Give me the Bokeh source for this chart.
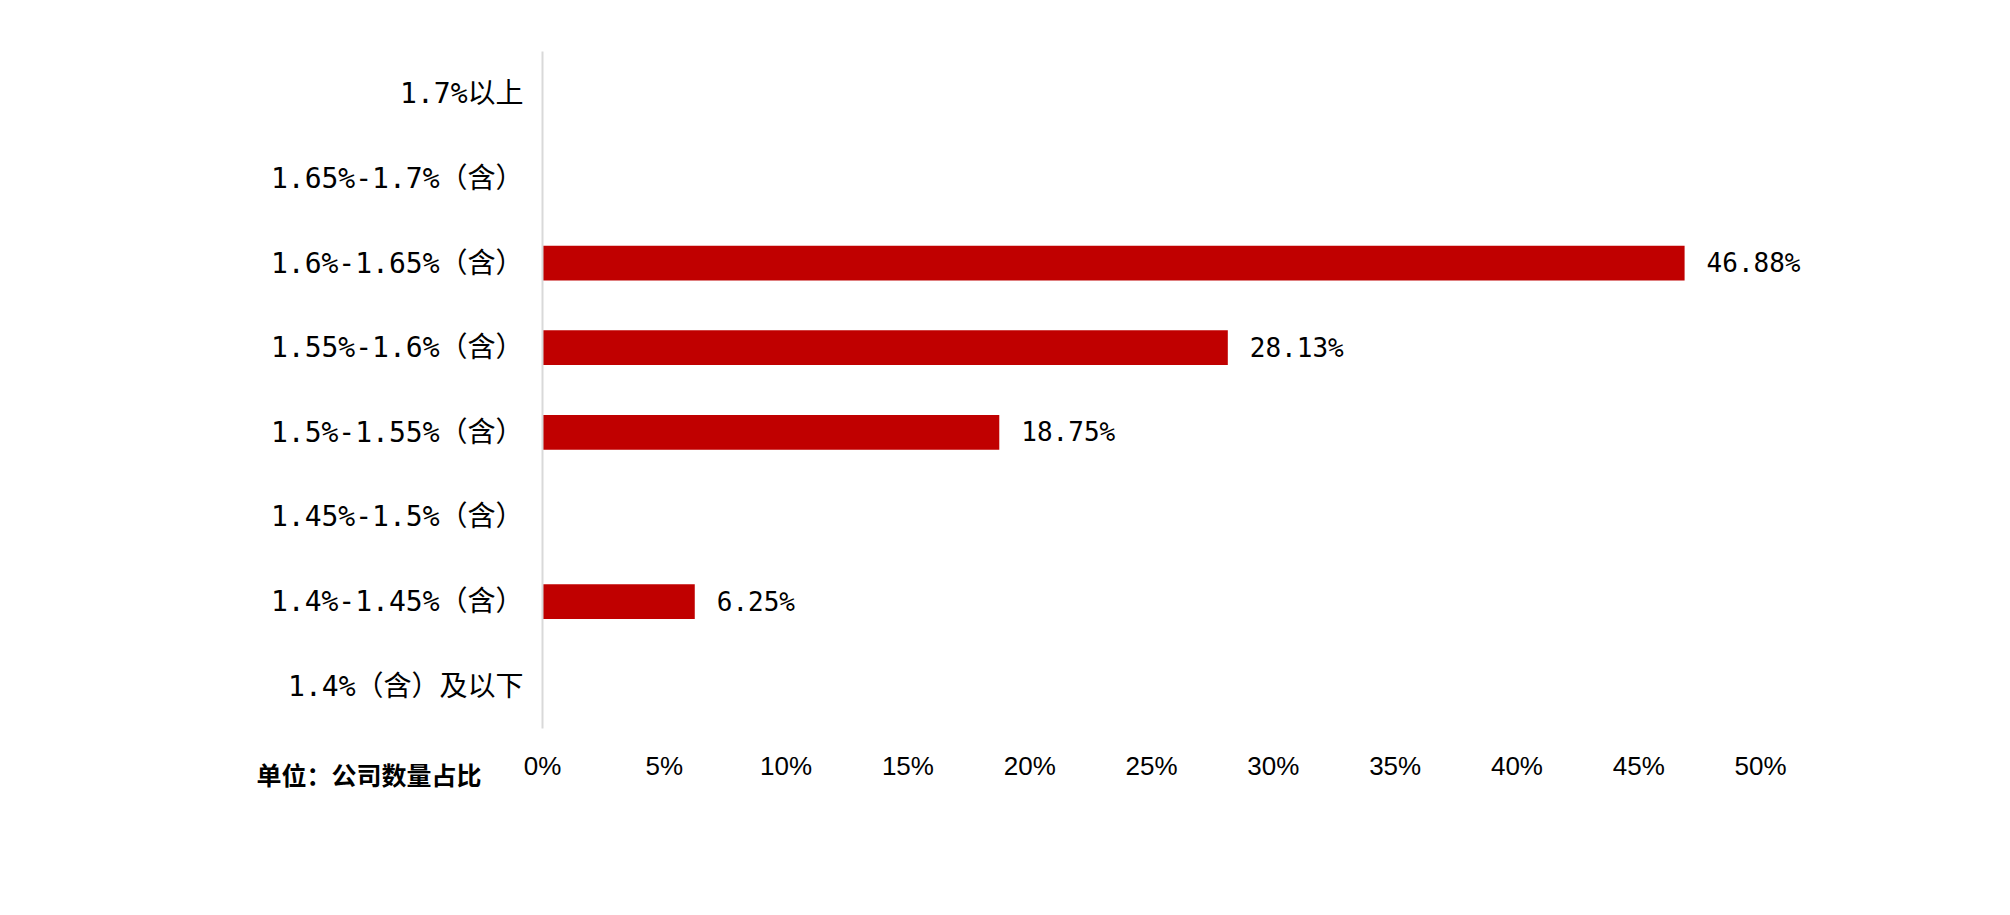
from bokeh.plotting import figure
from bokeh.models import FactorRange, Range1d, FixedTicker, Title, ColumnDataSource, LabelSet
from bokeh.core.properties import value
from bokeh.embed import file_html
from bokeh.resources import INLINE

# top-to-bottom order as in the chart
categories = ["1.7%以上", "1.65%-1.7%（含）", "1.6%-1.65%（含）", "1.55%-1.6%（含）",
              "1.5%-1.55%（含）", "1.45%-1.5%（含）", "1.4%-1.45%（含）", "1.4%（含）及以下"]
shares = [0, 0, 46.88, 28.13, 18.75, 0, 6.25, 0]
x_ticks = [0, 5, 10, 15, 20, 25, 30, 35, 40, 45, 50]
x_tick_labels = ["0%", "5%", "10%", "15%", "20%", "25%", "30%", "35%", "40%", "45%", "50%"]
unit_text = "单位：公司数量占比"

cats_bottom_up = list(reversed(categories))

LABEL_FONT = "DejaVu Sans Mono, Noto Sans CJK SC"
CJK_FONT = "Noto Sans CJK SC"
TICK_FONT = "Liberation Sans"

p = figure(width=2000, height=900, y_range=FactorRange(factors=cats_bottom_up),
           x_range=Range1d(0, 58), output_backend="svg", toolbar_location=None,
           min_border_left=542, min_border_right=45, min_border_top=51, min_border_bottom=172)
p.outline_line_color = None
p.grid.grid_line_color = None
p.background_fill_color = "white"
p.border_fill_color = "white"

src = ColumnDataSource(dict(cat=categories, val=shares))
p.hbar(y="cat", right="val", left=0, height=0.41, source=src, color="#C00000", line_color=None)

nz = [i for i, v in enumerate(shares) if v > 0]
lab_src = ColumnDataSource(dict(cat=[categories[i] for i in nz], val=[shares[i] for i in nz],
                                txt=["%.2f%%" % shares[i] for i in nz]))
p.add_layout(LabelSet(x="val", y="cat", text="txt", source=lab_src, x_offset=22,
                      text_baseline="middle", text_align="left", text_font=value(LABEL_FONT),
                      text_font_size="26px", text_color="black"))

# y axis
ya = p.yaxis[0]
ya.axis_line_color = "#d9d9d9"
ya.axis_line_width = 2
ya.major_tick_line_color = None
ya.minor_tick_line_color = None
ya.major_label_text_font = LABEL_FONT
ya.major_label_text_font_size = "28px"
ya.major_label_text_color = "black"
ya.major_label_standoff = 13

# x axis
xa = p.xaxis[0]
xa.ticker = FixedTicker(ticks=x_ticks)
xa.major_label_overrides = {t: l for t, l in zip(x_ticks, x_tick_labels)}
xa.axis_line_color = None
xa.major_tick_line_color = None
xa.minor_tick_line_color = None
xa.major_label_text_font = TICK_FONT
xa.major_label_text_font_size = "26px"
xa.major_label_text_color = "black"
xa.major_label_standoff = 16

p.add_layout(Title(text=unit_text, align="left", vertical_align="top", offset=-286, standoff=-56,
                   text_font=CJK_FONT, text_font_size="25px", text_font_style="bold",
                   text_color="black"), "below")

open("out.html", "w").write(file_html(p, INLINE))
